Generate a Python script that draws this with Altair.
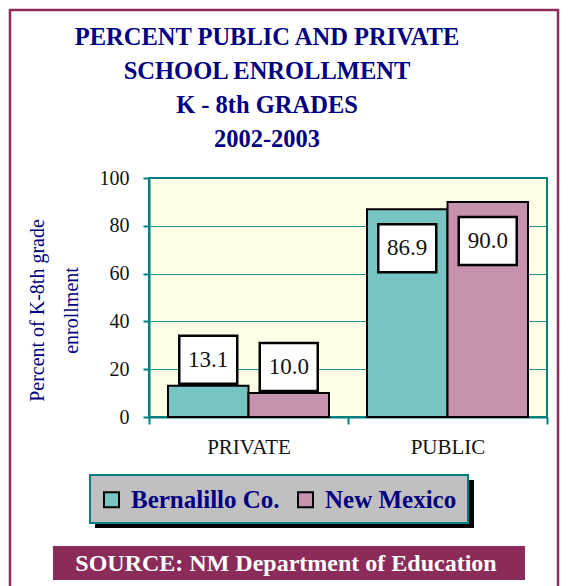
import altair as alt
import pandas as pd

categories = ["PRIVATE", "PUBLIC"]
series = ["Bernalillo Co.", "New Mexico"]
bernalillo = [13.1, 86.9]
new_mexico = [10.0, 90.0]
y_ticks = [0, 20, 40, 60, 80, 100]
title_lines = ["PERCENT PUBLIC AND PRIVATE", "SCHOOL ENROLLMENT", "K - 8th GRADES", "2002-2003"]
y_title = ["Percent of K-8th grade", "enrollment"]
source_text = "SOURCE:  NM Department of Education"

rows = []
for i, c in enumerate(categories):
    rows.append({"cat": c, "series": series[0], "value": bernalillo[i]})
    rows.append({"cat": c, "series": series[1], "value": new_mexico[i]})
df = pd.DataFrame(rows)
one = pd.DataFrame({"k": [0]})

SERIF = "Liberation Serif"
TEAL = "#008080"
MAROON = "#8a2b5a"
NAVY = "#000080"
BAR_COLORS = ["#78c4c2", "#c792ae"]

W, H = 398, 239

x_enc = alt.X(
    "cat:N", sort=categories,
    scale=alt.Scale(paddingInner=0, paddingOuter=0),
    axis=alt.Axis(
        title=None, labelAngle=0, tickBand="extent", domainColor=TEAL, domainWidth=2,
        tickColor=TEAL, tickWidth=2, tickSize=7, labelFont=SERIF, labelFontSize=21,
        labelColor="#111111", labelPadding=12, grid=False,
    ),
)
xo_enc = alt.XOffset("series:N", sort=series, scale=alt.Scale(paddingOuter=0.236, paddingInner=0))
y_enc = alt.Y(
    "value:Q",
    scale=alt.Scale(domain=[0, 100], nice=False),
    axis=alt.Axis(
        values=y_ticks, title=y_title, titleFont=SERIF, titleFontSize=20, titleFontWeight="normal",
        titleColor=NAVY, titleLineHeight=34, titleX=-112, titleY=132, titleAlign="center",
        titleBaseline="middle", titleAngle=270,
        domainColor=TEAL, domainWidth=2, tickColor=TEAL, tickWidth=2, tickSize=6,
        labelFont=SERIF, labelFontSize=20, labelColor="#111111", labelPadding=14,
        gridColor=TEAL, gridWidth=1, gridOpacity=0.85,
    ),
)

frame = alt.Chart(one).mark_rect(fill=None, stroke=MAROON, strokeWidth=2.5).encode(
    x=alt.value(-139), x2=alt.value(409), y=alt.value(-168), y2=alt.value(440)
)
shadow = alt.Chart(one).mark_rect(fill="black").encode(
    x=alt.value(-54), x2=alt.value(325), y=alt.value(302), y2=alt.value(350)
)
legend_box = alt.Chart(one).mark_rect(fill="#c0c0c0", stroke=TEAL, strokeWidth=2).encode(
    x=alt.value(-59), x2=alt.value(319), y=alt.value(297), y2=alt.value(345)
)
banner = alt.Chart(one).mark_rect(fill=MAROON).encode(
    x=alt.value(-96), x2=alt.value(376), y=alt.value(368), y2=alt.value(402)
)
banner_text = alt.Chart(one).mark_text(
    font=SERIF, fontSize=24, fontWeight="bold", color="white", align="center", baseline="middle"
).encode(x=alt.value(137), y=alt.value(386), text=alt.value(source_text))
title = alt.Chart(one).mark_text(
    font=SERIF, fontSize=24.5, fontWeight="bold", color=NAVY, align="center",
    baseline="alphabetic", lineHeight=34, lineBreak="\n",
).encode(x=alt.value(118), y=alt.value(-133), text=alt.value("\n".join(title_lines)))

bars = alt.Chart(df).mark_bar(stroke="black", strokeWidth=2, opacity=1).encode(
    x=x_enc, xOffset=xo_enc, y=y_enc,
    color=alt.Color(
        "series:N", sort=series, scale=alt.Scale(domain=series, range=BAR_COLORS),
        legend=alt.Legend(
            orient="none", legendX=-50, legendY=309, direction="horizontal", title=None,
            symbolType="square", symbolSize=225, symbolStrokeColor="black", symbolStrokeWidth=2,
            symbolOpacity=1, labelFont=SERIF, labelFontSize=25, labelFontWeight="bold",
            labelColor=NAVY, labelOffset=7, columnPadding=13, padding=0, labelLimit=0,
        ),
    ),
)

above = "datum.value < 50"
inside = "datum.value >= 50"
box_above = alt.Chart(df).transform_filter(above).mark_bar(
    fill="white", stroke="black", strokeWidth=2.5, width=58, yOffset=-50, y2Offset=-2
).encode(x=alt.X("cat:N", sort=categories), xOffset=alt.XOffset("series:N", sort=series),
         y="value:Q", y2="value:Q")
box_inside = alt.Chart(df).transform_filter(inside).mark_bar(
    fill="white", stroke="black", strokeWidth=2.5, width=58, yOffset=15, y2Offset=63
).encode(x=alt.X("cat:N", sort=categories), xOffset=alt.XOffset("series:N", sort=series),
         y="value:Q", y2="value:Q")
txt_above = alt.Chart(df).transform_filter(above).mark_text(
    font=SERIF, fontSize=23, color="#111111", baseline="middle", dy=-26
).encode(x=alt.X("cat:N", sort=categories), xOffset=alt.XOffset("series:N", sort=series),
         y="value:Q", text=alt.Text("value:Q", format=".1f"))
txt_inside = alt.Chart(df).transform_filter(inside).mark_text(
    font=SERIF, fontSize=23, color="#111111", baseline="middle", dy=39
).encode(x=alt.X("cat:N", sort=categories), xOffset=alt.XOffset("series:N", sort=series),
         y="value:Q", text=alt.Text("value:Q", format=".1f"))

chart = alt.layer(
    frame, shadow, legend_box, banner, banner_text, title,
    bars, box_above, box_inside, txt_above, txt_inside,
).properties(
    width=W, height=H,
    autosize=alt.AutoSizeParams(type="none"),
    padding={"left": 141, "top": 170, "right": 13, "bottom": 169},
    background="white",
).configure_view(
    stroke=TEAL, strokeWidth=2, fill="#ffffe8"
)

chart.save("out.html", embed_options={"renderer": "svg", "actions": False})
